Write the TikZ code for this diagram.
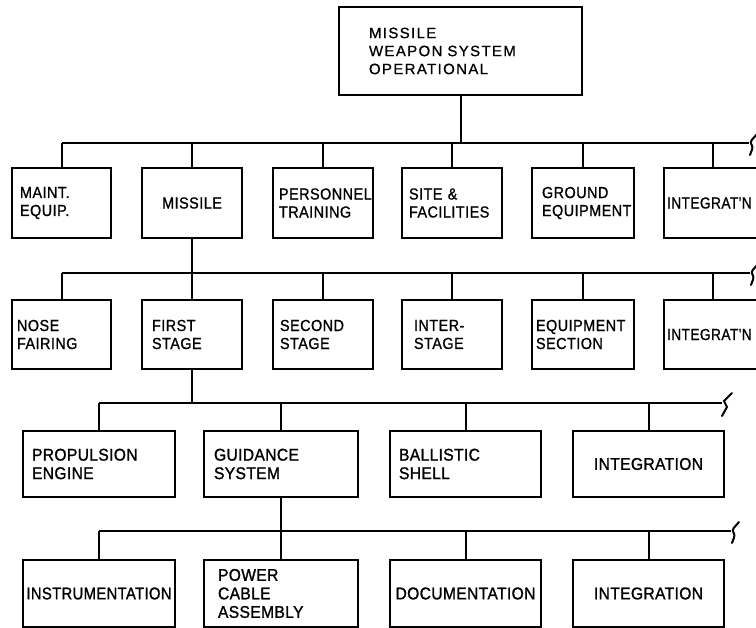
\documentclass[tikz,border=0pt]{standalone}
\usepackage{fontspec}
\usepackage{graphicx}
\setmainfont{Liberation Sans}
\newfontfamily\topfont[LetterSpace=9, FakeBold=0.8]{Liberation Sans}
\newfontfamily\rowfont[LetterSpace=3, FakeStretch=0.9, FakeBold=1]{Liberation Sans}
\newfontfamily\rowfontb[LetterSpace=2, FakeStretch=0.92, FakeBold=1.2]{Liberation Sans}
\newcommand\brkcurl[1]{%
  \draw[brk, rounded corners=2.5pt] ([shift={(8,-9)}]#1) -- ([shift={(1,-1)}]#1) -- ([shift={(4,4)}]#1) -- ([shift={(1,12)}]#1);}
\newcommand\brkzig[1]{%
  \draw[brk] ([shift={(10,-10)}]#1) -- ([shift={(2,-2)}]#1) -- ([shift={(5,4)}]#1) -- ([shift={(0,13)}]#1);}
\begin{document}
\begin{tikzpicture}[x=1pt,y=-1pt]
\useasboundingbox (0,0) rectangle (756,628);
\clip (0,0) rectangle (756,628);
\tikzset{
  bx/.style={draw, line width=1.8pt, anchor=north west, inner ysep=0pt, outer sep=0pt, align=left},
  r12/.style={bx, font=\rowfont\fontsize{16}{18}\selectfont},
  r34/.style={bx, font=\rowfontb\fontsize{17}{18.5}\selectfont},
  wire/.style={line width=2pt},
  brk/.style={line width=2pt, line cap=round},
}
% top
\node[bx, font=\topfont\fontsize{15}{18}\selectfont, minimum height=88pt, text width=183pt, inner xsep=30pt] (top) at (339,7) {MISSILE\\WEAPON SYSTEM\\OPERATIONAL};
% row 1
\node[r12, minimum height=70pt, text width=83pt, inner xsep=8pt] (b11) at (12,168) {MAINT.\\EQUIP.};
\node[r12, minimum height=70pt, text width=90pt, inner xsep=5pt, align=center] (b12) at (142,168) {MISSILE};
\node[r12, minimum height=70pt, text width=88pt, inner xsep=6pt] (b13) at (273,168) {PERSONNEL\\TRAINING};
\node[r12, minimum height=70pt, text width=86pt, inner xsep=7pt] (b14) at (402,168) {SITE \&\\FACILITIES};
\node[r12, minimum height=70pt, text width=82pt, inner xsep=10pt] (b15) at (532,168) {GROUND\\EQUIPMENT};
\node[r12, minimum height=70pt, text width=92pt, inner xsep=3pt] (b16) at (664,168) {\scalebox{0.95}[1]{INTEGRAT'N}};
% row 2
\node[r12, minimum height=69pt, text width=89pt, inner xsep=5pt] (b21) at (12,300) {NOSE\\FAIRING};
\node[r12, minimum height=69pt, text width=80pt, inner xsep=10pt] (b22) at (142,300) {FIRST\\STAGE};
\node[r12, minimum height=69pt, text width=86pt, inner xsep=7pt] (b23) at (273,300) {SECOND\\STAGE};
\node[r12, minimum height=69pt, text width=76pt, inner xsep=12pt] (b24) at (402,300) {INTER-\\STAGE};
\node[r12, minimum height=69pt, text width=94pt, inner xsep=4pt] (b25) at (532,300) {EQUIPMENT\\SECTION};
\node[r12, minimum height=69pt, text width=92pt, inner xsep=3pt] (b26) at (664,300) {\scalebox{0.95}[1]{INTEGRAT'N}};
% row 3
\node[r34, minimum height=66pt, text width=134pt, inner xsep=9pt] (b31) at (23,431) {PROPULSION\\ENGINE};
\node[r34, minimum height=66pt, text width=134pt, inner xsep=10pt] (b32) at (204,431) {GUIDANCE\\SYSTEM};
\node[r34, minimum height=66pt, text width=133pt, inner xsep=9pt] (b33) at (390,431) {BALLISTIC\\SHELL};
\node[r34, minimum height=66pt, text width=141pt, inner xsep=5pt, align=center] (b34) at (573,431) {INTEGRATION};
% row 4
\node[r34, minimum height=67pt, text width=148pt, inner xsep=2pt, align=center] (b41) at (23,560) {\scalebox{0.95}[1]{INSTRUMENTATION}};
\node[r34, minimum height=67pt, text width=126pt, inner xsep=14pt] (b42) at (204,560) {POWER\\CABLE\\ASSEMBLY};
\node[r34, minimum height=67pt, text width=147pt, inner xsep=2pt, align=center] (b43) at (390,560) {DOCUMENTATION};
\node[r34, minimum height=67pt, text width=141pt, inner xsep=5pt, align=center] (b44) at (573,560) {INTEGRATION};
% bus ends
\coordinate (e1) at (749,143);
\coordinate (e2) at (750,273);
\coordinate (e3) at (722,403);
\coordinate (e4) at (731,531);
% level 1
\draw[wire] (top.south) -- (top.south |- e1);
\draw[wire] (b11.north |- e1) -- (e1);
\foreach \n in {b11,b12,b13,b14,b15,b16} \draw[wire] (\n.north) -- (\n.north |- e1);
\brkcurl{e1}
% level 2
\draw[wire] (b12.south) -- (b12.south |- e2);
\draw[wire] (b21.north |- e2) -- (e2);
\foreach \n in {b21,b22,b23,b24,b25,b26} \draw[wire] (\n.north) -- (\n.north |- e2);
\brkcurl{e2}
% level 3
\draw[wire] (b22.south) -- (b22.south |- e3);
\draw[wire] (b31.north |- e3) -- (e3);
\foreach \n in {b31,b32,b33,b34} \draw[wire] (\n.north) -- (\n.north |- e3);
\brkzig{e3}
% level 4
\draw[wire] (b32.south) -- (b32.south |- e4);
\draw[wire] (b41.north |- e4) -- (e4);
\foreach \n in {b41,b42,b43,b44} \draw[wire] (\n.north) -- (\n.north |- e4);
\brkcurl{e4}
\end{tikzpicture}
\end{document}
